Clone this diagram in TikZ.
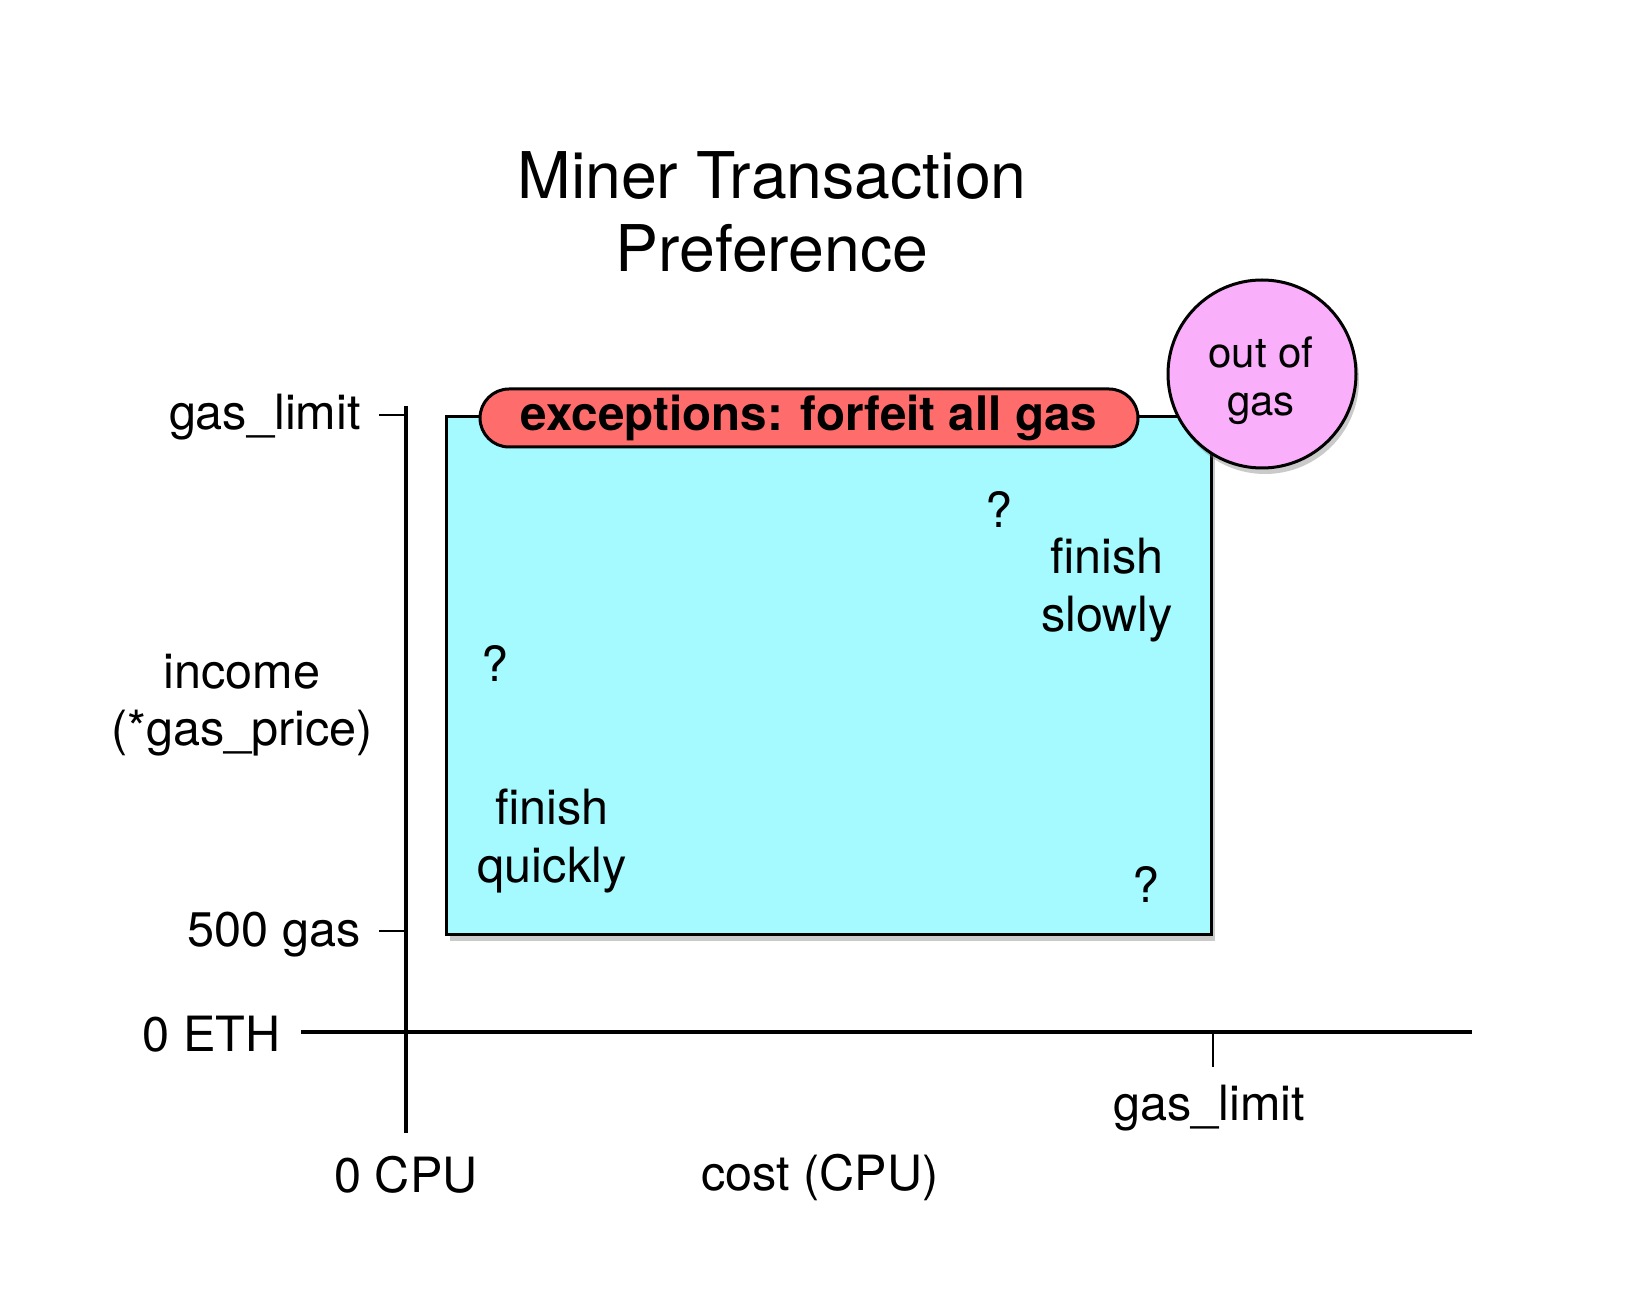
\documentclass[tikz,border=0pt]{standalone}
\usepackage{fontspec}
\setmainfont{TeX Gyre Heros}
\usetikzlibrary{shadows}
\definecolor{boxcyan}{RGB}{164,250,255}
\definecolor{pillred}{RGB}{255,108,108}
\definecolor{circpink}{RGB}{250,175,250}
\begin{document}
\begin{tikzpicture}[x=0.5pt,y=-0.5pt,
  lbl/.style={inner sep=0pt, font=\fontsize{24.3}{28.8}\selectfont, align=center},
  axisline/.style={line width=1.7pt},
  tickline/.style={line width=1.3pt},
  myshadow/.style={drop shadow={shadow xshift=1.5pt, shadow yshift=-3pt, opacity=0.35, fill=black!60}}]
\useasboundingbox (0,0) rectangle (1640,1304);

% title
\node[inner sep=0pt, font=\fontsize{32.2}{36.5}\selectfont, align=center] (title) at (772,212) {Miner Transaction\\Preference};

% axes
\coordinate (ytop) at (406,406);
\coordinate (ybot) at (406,1133);
\coordinate (xleft) at (301,1032);
\coordinate (xright) at (1472,1032);
\draw[axisline] (ytop) -- (ybot);
\draw[axisline] (xleft) -- (xright);

% ticks
\coordinate (t1a) at (379,415); \coordinate (t1b) at (406,415);
\coordinate (t2a) at (379,931); \coordinate (t2b) at (406,931);
\coordinate (t3a) at (1213,1032); \coordinate (t3b) at (1213,1067);
\draw[tickline] (t1a) -- (t1b);
\draw[tickline] (t2a) -- (t2b);
\draw[tickline] (t3a) -- (t3b);

% main region
\node[draw, fill=boxcyan, line width=1.5pt, myshadow, inner sep=0pt, anchor=north west,
      minimum width=382.5pt, minimum height=259pt] (box) at (445,415) {};

% exceptions pill
\node[draw, fill=pillred, line width=1.5pt, rounded corners=14.5pt, inner sep=0pt,
      minimum width=329pt, minimum height=29pt,
      font=\fontsize{23.8}{26}\selectfont\bfseries] (exc) at (809,418) {exceptions: forfeit all gas};

% out of gas circle
\node[circle, draw, fill=circpink, line width=1.5pt, myshadow, minimum size=94pt, inner sep=0pt] (oog) at (1262,374) {};
\node[inner sep=0pt, align=center, font=\fontsize{21}{24}\selectfont] (oogtext) at (1261,381) {out of\\gas};

% labels inside
\node[lbl] (q1) at (999,509) {?};
\node[lbl] (slow) at (1107,590) {finish\\slowly};
\node[lbl] (q2) at (495,663) {?};
\node[lbl] (quick) at (552,841) {finish\\quickly};
\node[lbl] (q3) at (1146,884) {?};

% axis labels
\node[lbl, anchor=east] (ygl) at (361,417) {gas\_limit};
\node[lbl] (income) at (242,705) {income\\(*gas\_price)};
\node[lbl, anchor=east] (y500) at (361,935) {500 gas};
\node[lbl, anchor=east] (yeth) at (281,1034) {0 ETH};
\node[lbl] (xcpu) at (406,1175) {0 CPU};
\node[lbl] (xcost) at (820,1177) {cost (CPU)};
\node[lbl] (xgl) at (1209,1108) {gas\_limit};
\end{tikzpicture}
\end{document}
